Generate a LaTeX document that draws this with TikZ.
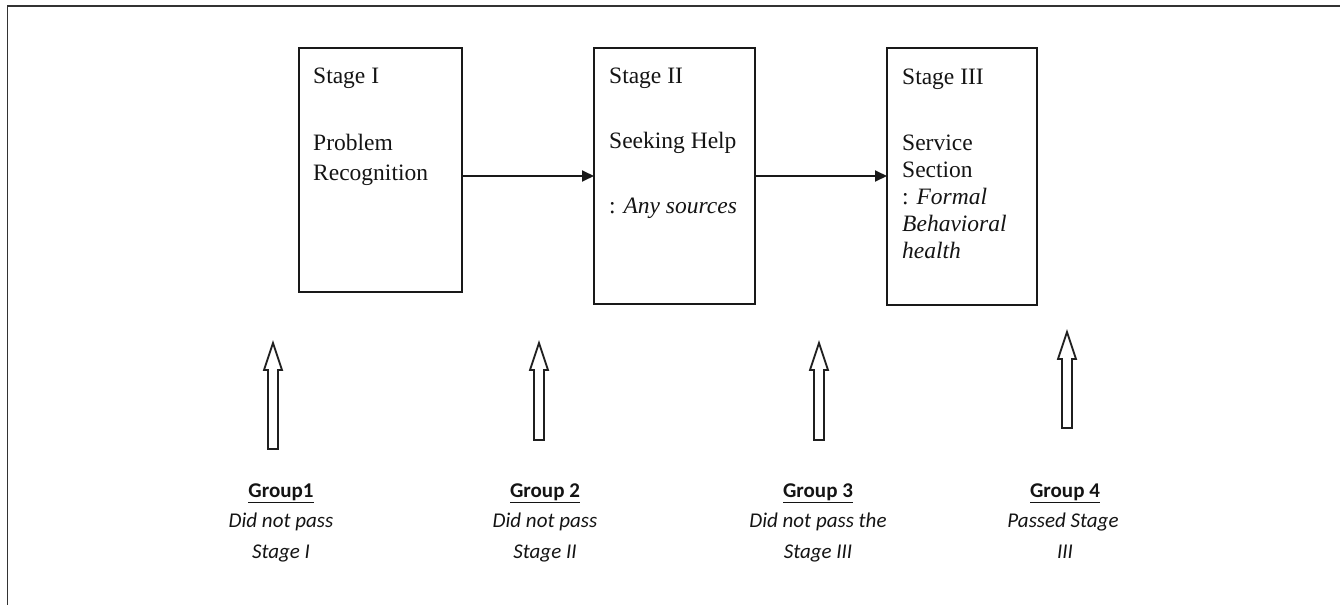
\documentclass[tikz,border=0pt]{standalone}
\usepackage{fontspec}
\setmainfont{Liberation Serif}
\newfontfamily\grpfont{Carlito}
\usetikzlibrary{arrows.meta}
\newcommand{\upblockarrow}[3]{%
  \draw[blockarr] (#1,#2) -- (#1+9,#2+27) -- (#1+5,#2+27) -- (#1+5,#3)
    -- (#1-5,#3) -- (#1-5,#2+27) -- (#1-9,#2+27) -- cycle;}
\begin{document}
\begin{tikzpicture}[x=1pt,y=-1pt,
  stagebox/.style={draw=black!90,line width=1.8pt,inner sep=0pt,outer sep=0pt,anchor=north west},
  stxt/.style={font=\fontsize{23.5}{28}\selectfont,text=black!92,inner sep=0pt,anchor=base west},
  gtxt/.style={font=\grpfont\fontsize{21}{29}\selectfont,text=black!92,inner sep=0pt,anchor=base},
  flow/.style={line width=1.8pt,draw=black!90,-{Triangle[length=12pt,width=11pt]}},
  blockarr/.style={line width=1.8pt,draw=black!88,fill=white,line join=miter},
  frame/.style={line width=1.8pt,draw=black!80}]
\useasboundingbox (0,0) rectangle (1340,605);
% outer frame (top and left only)
\draw[frame] (1340,6) -- (7.5,6) -- (7.5,605);
% stage boxes
\node[stagebox,minimum width=163pt,minimum height=244pt] (s1) at (299,48) {};
\node[stagebox,minimum width=161pt,minimum height=256pt] (s2) at (594,48) {};
\node[stagebox,minimum width=150pt,minimum height=257pt] (s3) at (887,48) {};
% box texts
\node[stxt] (s1a) at (313,83) {Stage I};
\node[stxt] (s1b) at (313,150) {Problem};
\node[stxt] (s1c) at (313,180) {Recognition};
\node[stxt] (s2a) at (609,83) {Stage II};
\node[stxt] (s2b) at (609,148) {Seeking Help};
\node[stxt] (s2c) at (609,213) {: \textit{Any sources}};
\node[stxt] (s3a) at (902,84) {Stage III};
\node[stxt] (s3b) at (902,150) {Service};
\node[stxt] (s3c) at (902,177) {Section};
\node[stxt] (s3d) at (902,204) {: \textit{Formal}};
\node[stxt] (s3e) at (902,231) {\textit{Behavioral}};
\node[stxt] (s3f) at (902,258) {\textit{health}};
% flow arrows
\coordinate (lvl) at (0,176);
\draw[flow] (s1.east |- lvl) -- (s2.west |- lvl);
\draw[flow] (s2.east |- lvl) -- (s3.west |- lvl);
% block arrows
\upblockarrow{273}{343}{449}
\upblockarrow{539}{343}{440}
\upblockarrow{819}{343}{440}
\upblockarrow{1067}{332}{428}
% group labels
\node[gtxt] (g1a) at (281,497) {\underline{\textbf{Group1}}};
\node[gtxt] (g1b) at (281,527) {\textit{Did not pass}};
\node[gtxt] (g1c) at (281,558) {\textit{Stage I}};
\node[gtxt] (g2a) at (545,497) {\underline{\textbf{Group 2}}};
\node[gtxt] (g2b) at (545,527) {\textit{Did not pass}};
\node[gtxt] (g2c) at (545,558) {\textit{Stage II}};
\node[gtxt] (g3a) at (818,497) {\underline{\textbf{Group 3}}};
\node[gtxt] (g3b) at (818,527) {\textit{Did not pass the}};
\node[gtxt] (g3c) at (818,558) {\textit{Stage III}};
\node[gtxt] (g4a) at (1065,497) {\underline{\textbf{Group 4}}};
\node[gtxt] (g4b) at (1063,527) {\textit{Passed Stage}};
\node[gtxt] (g4c) at (1065,558) {\textit{III}};
\end{tikzpicture}
\end{document}
